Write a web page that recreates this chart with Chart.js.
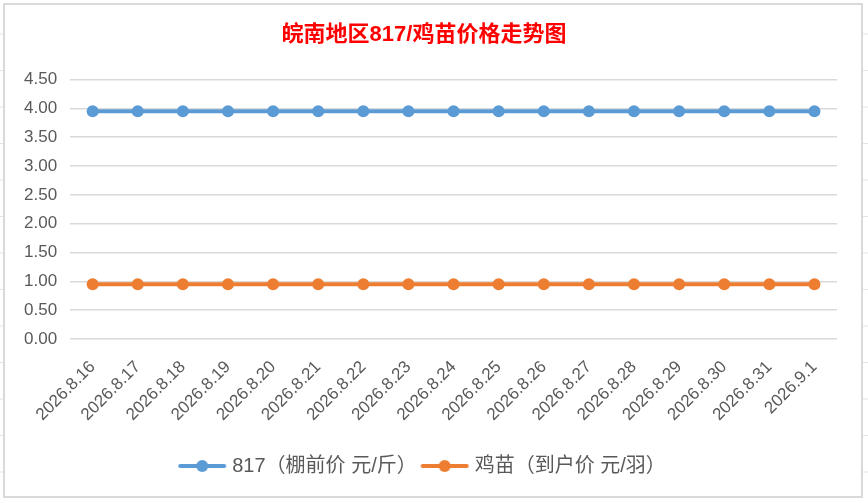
<!DOCTYPE html>
<html lang="zh-CN">
<head>
    <meta charset="UTF-8">
    <title>皖南地区817/鸡苗价格走势图</title>
    <script src="https://cdn.jsdelivr.net/npm/chart.js"></script>
    <style>
        html, body {
            margin: 0;
            padding: 0;
            width: 868px;
            height: 503px;
            overflow: hidden;
            background-color: #fff;
            /* planilha ao fundo */
            background-image:
                linear-gradient(to right, #e3e3e3 1px, transparent 1px),
                linear-gradient(to bottom, #e3e3e3 1px, transparent 1px);
            background-size: 122px 36.5px;
            background-position: 10px -3px;
        }
        .frame {
            position: absolute;
            left: 3px;
            top: 3px;
            width: 860px;
            height: 495px;
            box-sizing: border-box;
            border: 2px solid #d9d9d9;
            background-color: #fff;
        }
        canvas {
            display: block;
        }
    </style>
</head>
<body>
    <div class="frame">
        <canvas id="myChart" width="856" height="491"></canvas>
    </div>

    <script>
        const labels = ['2026.8.16', '2026.8.17', '2026.8.18', '2026.8.19', '2026.8.20', '2026.8.21',
            '2026.8.22', '2026.8.23', '2026.8.24', '2026.8.25', '2026.8.26', '2026.8.27',
            '2026.8.28', '2026.8.29', '2026.8.30', '2026.8.31', '2026.9.1'];
        const precoPintinho817 = [3.95, 3.95, 3.95, 3.95, 3.95, 3.95, 3.95, 3.95, 3.95,
            3.95, 3.95, 3.95, 3.95, 3.95, 3.95, 3.95, 3.95];
        const precoPintinhoComum = [0.95, 0.95, 0.95, 0.95, 0.95, 0.95, 0.95, 0.95, 0.95,
            0.95, 0.95, 0.95, 0.95, 0.95, 0.95, 0.95, 0.95];
        const yTicks = [0, 0.5, 1, 1.5, 2, 2.5, 3, 3.5, 4, 4.5];

        const BLUE = '#5B9BD5';
        const ORANGE = '#ED7D31';
        const FONT = "'Liberation Sans', 'Noto Sans CJK SC', sans-serif";

        // ícone da legenda: linha com bolinha, como no Excel
        function legendIcon(color) {
            const c = document.createElement('canvas');
            c.width = 50;
            c.height = 14;
            const g = c.getContext('2d');
            g.strokeStyle = color;
            g.lineWidth = 4;
            g.lineCap = 'round';
            g.beginPath();
            g.moveTo(3, 7);
            g.lineTo(47, 7);
            g.stroke();
            g.fillStyle = color;
            g.beginPath();
            g.arc(25, 7, 6, 0, Math.PI * 2);
            g.fill();
            return c;
        }

        const ctx = document.getElementById('myChart').getContext('2d');

        const myChart = new Chart(ctx, {
            type: 'line',
            data: {
                labels: labels,
                datasets: [
                    {
                        label: '817（棚前价 元/斤）',
                        data: precoPintinho817,
                        borderColor: BLUE,
                        backgroundColor: BLUE,
                        borderWidth: 4,
                        pointRadius: 6,
                        pointHoverRadius: 6,
                        pointBorderWidth: 0,
                        fill: false,
                    },
                    {
                        label: '鸡苗（到户价 元/羽）',
                        data: precoPintinhoComum,
                        borderColor: ORANGE,
                        backgroundColor: ORANGE,
                        borderWidth: 4,
                        pointRadius: 6,
                        pointHoverRadius: 6,
                        pointBorderWidth: 0,
                        fill: false,
                    }
                ]
            },
            options: {
                responsive: false,
                animation: false,
                layout: {
                    padding: { left: 6, right: 24, top: 0, bottom: 10 }
                },
                plugins: {
                    title: {
                        display: true,
                        text: '皖南地区817/鸡苗价格走势图',
                        color: '#FF0000',
                        font: { family: FONT, size: 22, weight: 'bold' },
                        padding: { top: 17, bottom: 31 }
                    },
                    legend: {
                        position: 'bottom',
                        labels: {
                            color: '#595959',
                            font: { family: FONT, size: 20 },
                            usePointStyle: true,
                            pointStyleWidth: 40,
                            boxHeight: 14,
                            padding: 8,
                            generateLabels: function (chart) {
                                return chart.data.datasets.map(function (ds, i) {
                                    return {
                                        text: ds.label,
                                        pointStyle: legendIcon(ds.borderColor),
                                        fontColor: '#595959',
                                        datasetIndex: i,
                                        lineWidth: 0,
                                        hidden: false
                                    };
                                });
                            }
                        }
                    },
                    tooltip: { enabled: false }
                },
                scales: {
                    x: {
                        offset: true,
                        grid: { display: false },
                        border: { display: false },
                        ticks: {
                            color: '#595959',
                            font: { family: FONT, size: 17 },
                            minRotation: 45,
                            maxRotation: 45,
                            padding: 10,
                            autoSkip: false
                        },
                        afterFit: function (axis) {
                            axis.height += 13;
                        }
                    },
                    y: {
                        min: 0,
                        max: 4.5,
                        afterBuildTicks: function (axis) {
                            axis.ticks = yTicks.map(function (v) { return { value: v }; });
                        },
                        grid: { color: '#d9d9d9', lineWidth: 1.5, drawTicks: false },
                        border: { display: false },
                        ticks: {
                            color: '#595959',
                            font: { family: FONT, size: 17 },
                            padding: 13,
                            callback: function (v) { return Number(v).toFixed(2); }
                        }
                    }
                }
            }
        });
    </script>
</body>
</html>
